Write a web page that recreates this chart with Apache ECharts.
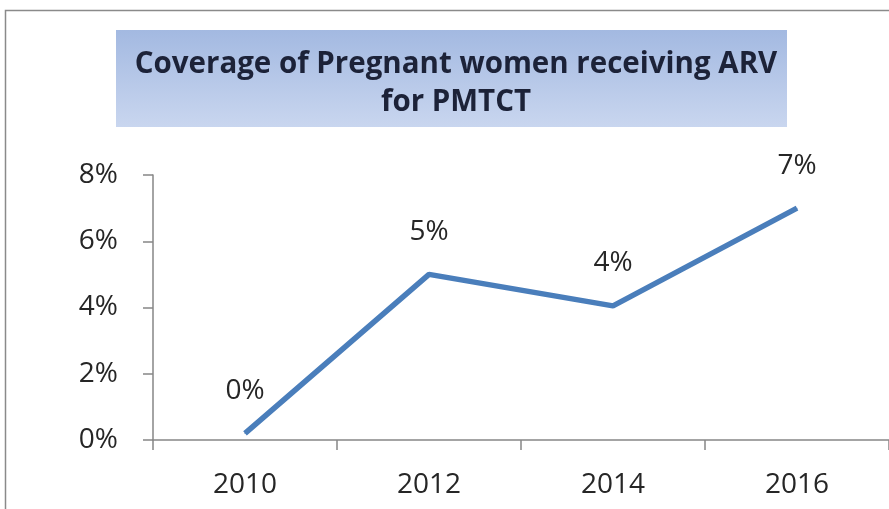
<!DOCTYPE html>
<html>
<head>
<meta charset="utf-8">
<script src="https://cdn.jsdelivr.net/npm/echarts@6/dist/echarts.min.js"></script>
<style>
html,body{margin:0;padding:0;background:#fff;}
#c{width:889px;height:509px;}
</style>
</head>
<body>
<div id="c"></div>
<script>
const titleLines = ["Coverage of Pregnant women receiving ARV", "for PMTCT"];
const categories = ["2010", "2012", "2014", "2016"];
const coverage = [0.2, 5.0, 4.05, 7.0];
const yTicks = [0, 2, 4, 6, 8];

const chart = echarts.init(document.getElementById('c'), null, {renderer: 'canvas'});
const font = '"Open Sans", Lato, sans-serif';
chart.setOption({
  backgroundColor: '#ffffff',
  animation: false,
  title: {
    text: titleLines.join('\n'),
    left: 451, top: 41, textAlign: 'center',
    textStyle: {fontFamily: font, fontWeight: 'bold', fontSize: 29.5, color: '#1c2238', lineHeight: 38}
  },
  graphic: [
    {type: 'rect', shape: {x: 5.5, y: 10.5, width: 900, height: 520}, style: {fill: 'none', stroke: '#8a8a8a', lineWidth: 1.5}, z: -10},
    {type: 'rect', shape: {x: 116, y: 30, width: 671, height: 97},
     style: {fill: new echarts.graphic.LinearGradient(0, 0, 0, 1, [{offset: 0, color: '#a3b9e1'}, {offset: 1, color: '#c9d6ef'}])}, z: -5}
  ],
  grid: {left: 153, top: 175, bottom: 69, right: -7},
  xAxis: {
    type: 'category', data: categories, boundaryGap: true,
    axisLine: {lineStyle: {color: '#868686', width: 1.5}},
    axisTick: {show: true, length: 10, inside: false, lineStyle: {color: '#868686', width: 1.5}},
    axisLabel: {fontFamily: font, fontSize: 28, color: '#262626', margin: 31}
  },
  yAxis: {
    type: 'value', min: yTicks[0], max: yTicks[yTicks.length - 1], interval: 2,
    axisLine: {show: true, lineStyle: {color: '#868686', width: 1.5}},
    axisTick: {show: true, length: 10, lineStyle: {color: '#868686', width: 1.5}},
    splitLine: {show: false},
    axisLabel: {fontFamily: font, fontSize: 28, color: '#262626', margin: 35, formatter: v => v + '%'}
  },
  series: [{
    type: 'line', data: coverage, symbol: 'circle', symbolSize: 1, showSymbol: true,
    itemStyle: {color: '#4a7ebb'},
    lineStyle: {color: '#4a7ebb', width: 5.5},
    label: {show: true, position: 'top', distance: 28, fontFamily: font, fontSize: 28, color: '#262626',
      formatter: p => Math.round(p.value) + '%'}
  }]
});
</script>
</body>
</html>
